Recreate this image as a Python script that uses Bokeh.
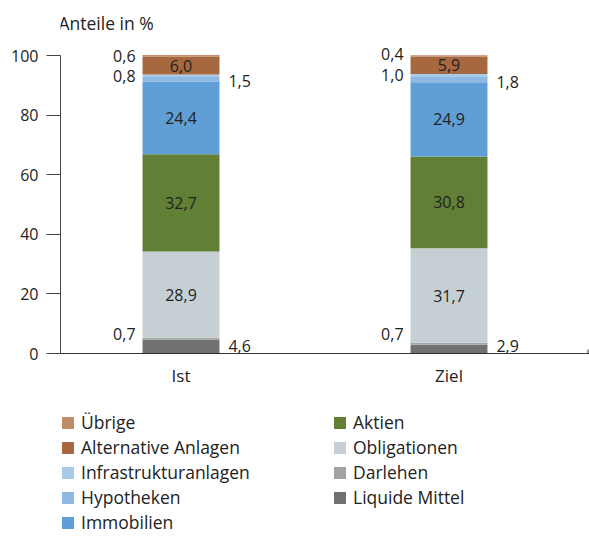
from bokeh.plotting import figure
from bokeh.models import Range1d, FixedTicker, Legend, LegendItem, ColumnDataSource, Label, Span
from bokeh.core.properties import value
from bokeh.embed import file_html
from bokeh.resources import INLINE
import numpy as np

# ---------------- data ----------------
categories = ["Ist", "Ziel"]
series = ["Liquide Mittel", "Darlehen", "Obligationen", "Aktien", "Immobilien",
          "Hypotheken", "Infrastrukturanlagen", "Alternative Anlagen", "Übrige"]
liquide_mittel = [4.6, 2.9]
darlehen = [0.7, 0.7]
obligationen = [28.9, 31.7]
aktien = [32.7, 30.8]
immobilien = [24.4, 24.9]
hypotheken = [1.5, 1.8]
infrastrukturanlagen = [0.8, 1.0]
alternative_anlagen = [6.0, 5.9]
uebrige = [0.6, 0.4]
y_ticks = [0, 20, 40, 60, 80, 100]
y_title = "Anteile in %"

values = {
    "Liquide Mittel": liquide_mittel,
    "Darlehen": darlehen,
    "Obligationen": obligationen,
    "Aktien": aktien,
    "Immobilien": immobilien,
    "Hypotheken": hypotheken,
    "Infrastrukturanlagen": infrastrukturanlagen,
    "Alternative Anlagen": alternative_anlagen,
    "Übrige": uebrige,
}

# ---------------- styles ----------------
colors = {
    "Liquide Mittel": "#717171",
    "Darlehen": "#a3a3a3",
    "Obligationen": "#c6d0d4",
    "Aktien": "#617f35",
    "Immobilien": "#5f9fd5",
    "Hypotheken": "#8db9e3",
    "Infrastrukturanlagen": "#aacaea",
    "Alternative Anlagen": "#a5683f",
    "Übrige": "#c08b69",
}
label_mode = {
    "Liquide Mittel": "right", "Darlehen": "left", "Obligationen": "in",
    "Aktien": "in", "Immobilien": "in", "Hypotheken": "right",
    "Infrastrukturanlagen": "left", "Alternative Anlagen": "in", "Übrige": "left",
}
# small pixel nudges for outside labels (screen px, positive = down)
nudge = {
    "Darlehen": [-5, -10],
    "Hypotheken": [2, 2],
    "Liquide Mittel": [-1, -3],
    "Übrige": [0, -2],
}
FONT = "Open Sans"
TXT = "#222222"
BAR_W = 0.287
PX_PER_X = 268.0
PX_PER_Y = 2.98

x_pos = list(range(len(categories)))

W, H = 589, 538
LEFT = 60
ZERO_Y = 353  # pixel row of value 0
x0 = -(180.5 - LEFT) / PX_PER_X
x1 = x0 + (W - LEFT) / PX_PER_X
y1 = ZERO_Y / PX_PER_Y
y0 = -(H - ZERO_Y) / PX_PER_Y

p = figure(width=W, height=H, output_backend="svg", toolbar_location=None,
           x_range=Range1d(x0, x1), y_range=Range1d(y0, y1),
           min_border_left=LEFT, min_border_right=0, min_border_top=0,
           min_border_bottom=0)
p.outline_line_color = None
p.grid.visible = False
p.background_fill_color = "white"
p.border_fill_color = "white"
p.xaxis.visible = False

src = ColumnDataSource(dict(x=x_pos, **values))
renderers = p.vbar_stack(series, x="x", width=BAR_W, source=src,
                         color=[colors[s] for s in series], line_color=None)
rmap = dict(zip(series, renderers))

# x axis line at value 0, with small end tick
p.add_layout(Span(location=0, dimension="width", line_color="#333333", line_width=1))
end_x = x1 - 1.5 / PX_PER_X
p.segment(x0=[end_x], y0=[0], x1=[end_x], y1=[4 / PX_PER_Y], line_color="#333333", line_width=1)

# category labels
p.text(x=x_pos, y=[0] * len(x_pos), text=categories, y_offset=22,
       text_align="center", text_baseline="middle", text_font=value(FONT),
       text_font_size="17px", text_color=TXT)

# ---------------- value labels ----------------
stack = np.zeros(len(categories))
groups = {"in": dict(x=[], y=[], t=[], dy=[]),
          "left": dict(x=[], y=[], t=[], dy=[]),
          "right": dict(x=[], y=[], t=[], dy=[])}
for s in series:
    v = np.array(values[s], dtype=float)
    centers = stack + v / 2
    stack = stack + v
    mode = label_mode[s]
    for i, xc in enumerate(x_pos):
        g = groups[mode]
        if mode == "in":
            g["x"].append(xc)
        elif mode == "left":
            g["x"].append(xc - BAR_W / 2)
        else:
            g["x"].append(xc + BAR_W / 2)
        g["y"].append(centers[i])
        g["t"].append(f"{v[i]:.1f}".replace(".", ","))
        g["dy"].append(nudge.get(s, [0] * len(categories))[i])

for mode, align, dx in [("in", "center", 0), ("left", "right", -7), ("right", "left", 9)]:
    g = groups[mode]
    p.text(x="x", y="y", text="t", y_offset="dy",
           source=ColumnDataSource(dict(x=g["x"], y=g["y"], t=g["t"], dy=g["dy"])),
           x_offset=dx, text_align=align, text_baseline="middle",
           text_font=value(FONT), text_font_size="16px", text_color=TXT)

# ---------------- y axis ----------------
yax = p.yaxis[0]
yax.ticker = FixedTicker(ticks=y_ticks)
yax.bounds = (y_ticks[0], y_ticks[-1])
yax.major_tick_out = 14
yax.major_tick_in = 0
yax.minor_tick_line_color = None
yax.major_label_standoff = 8
yax.axis_line_color = "#444444"
yax.major_tick_line_color = "#444444"
yax.major_label_text_font = FONT
yax.major_label_text_font_size = "16px"
yax.major_label_text_color = TXT

p.add_layout(Label(x=x0, y=(ZERO_Y - 22) / PX_PER_Y, text=y_title, text_font=FONT,
                   text_font_size="17.5px", text_color=TXT, text_baseline="middle",
                   text_align="left", x_offset=-2))

# ---------------- legends ----------------
left_items = ["Übrige", "Alternative Anlagen", "Infrastrukturanlagen", "Hypotheken", "Immobilien"]
right_items = ["Aktien", "Obligationen", "Darlehen", "Liquide Mittel"]

def make_legend(names, loc):
    return Legend(items=[LegendItem(label=n, renderers=[rmap[n]]) for n in names],
                  location=loc, orientation="vertical",
                  glyph_width=15, glyph_height=15, label_standoff=6,
                  label_text_font=FONT, label_text_font_size="17.5px",
                  label_text_color=TXT, label_height=20, spacing=1,
                  padding=0, margin=0, border_line_color=None,
                  background_fill_alpha=0)

p.add_layout(make_legend(left_items, (0, 4)))
p.add_layout(make_legend(right_items, (272, 29)))

open("out.html", "w").write(file_html(p, INLINE))
